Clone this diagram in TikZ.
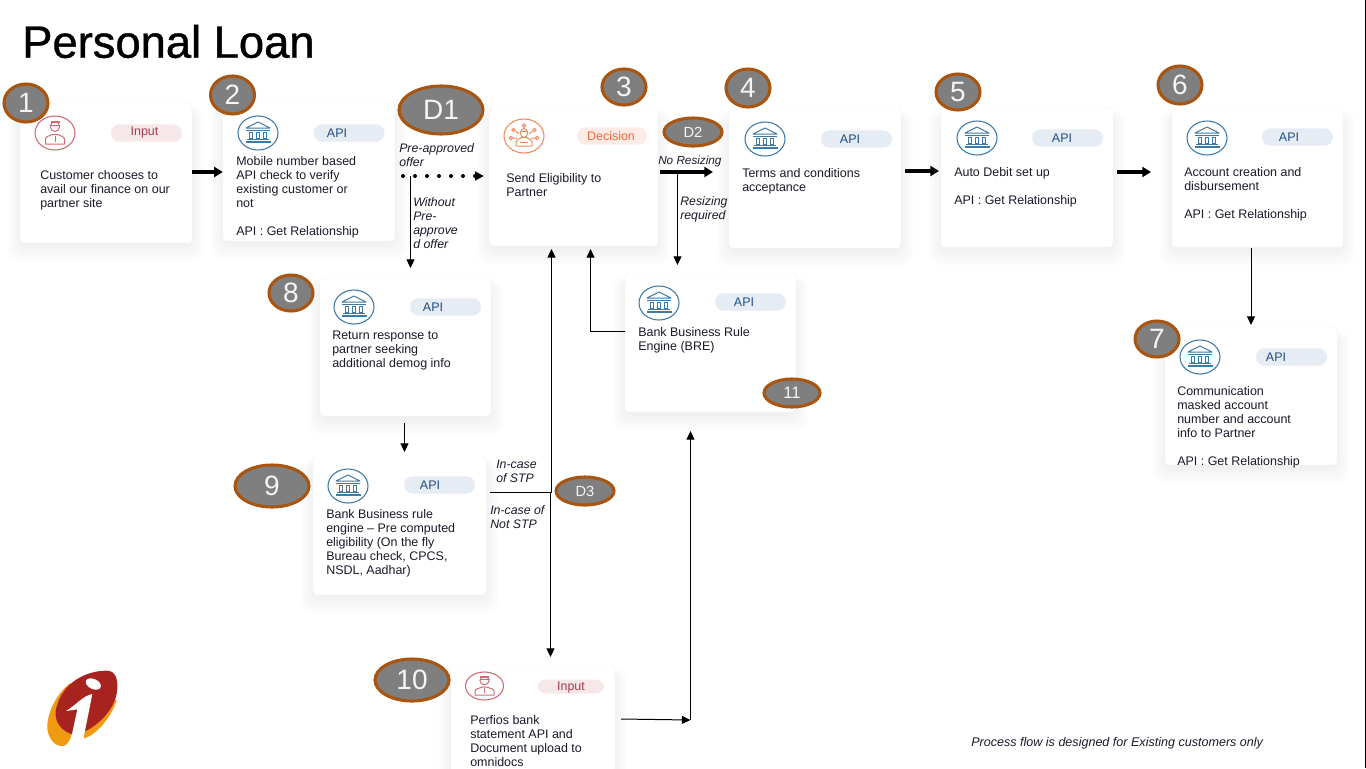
\documentclass[tikz,border=0pt]{standalone}
\usepackage{fontspec}
\setmainfont{Liberation Sans}
\newfontfamily\titlefont[FakeBold=0.9]{Liberation Sans}
\usetikzlibrary{arrows.meta,shapes.geometric}
\definecolor{badgefill}{HTML}{7F7F7F}
\definecolor{badgeedge}{HTML}{A9550F}
\definecolor{bluei}{HTML}{3F79A5}
\definecolor{redi}{HTML}{CF6A74}
\definecolor{orangei}{HTML}{F08A5D}
\definecolor{ink}{HTML}{1A1A2A}
\definecolor{apifill}{HTML}{E6ECF3}
\definecolor{apitext}{HTML}{1F4E86}
\definecolor{inputfill}{HTML}{F6E7E9}
\definecolor{inputtext}{HTML}{A83A50}
\definecolor{decfill}{HTML}{FDEBE5}
\definecolor{dectext}{HTML}{F0683A}
\definecolor{logored}{HTML}{A6231F}
\definecolor{logoorange}{HTML}{F09A12}
\tikzset{
  cardbox/.style={draw=black!5,line width=.3pt,fill=white,rounded corners=2.5pt,inner sep=0pt},
  body/.style={anchor=north west,inner sep=0pt,align=left,text=ink,font=\fontsize{9.35}{10.6}\selectfont},
  note/.style={anchor=north west,inner sep=0pt,align=left,text=ink,font=\fontsize{9.25}{10.6}\itshape\selectfont},
  badge/.style={ellipse,draw=badgeedge,line width=2.3pt,fill=badgefill,text=white!96!black,inner sep=0pt},
  pill/.style={rounded corners=6.5pt,inner sep=0pt,minimum height=13pt},
  tagtext/.style={inner sep=0pt,font=\fontsize{9.35}{10.6}\selectfont},
  bold arrow/.style={line width=2.4pt,-{Triangle[length=6.5pt,width=7.5pt]}},
  thin arrow/.style={line width=.75pt,-{Triangle[length=6.5pt,width=6pt]}},
  thin line/.style={line width=.75pt},
  dot arrow/.style={line width=3pt,line cap=round,dash pattern=on 0pt off 9pt,-{Triangle[length=6.5pt,width=6.5pt,line cap=butt]}}
}
% name x1 y1 x2 y2
\newcommand{\mycard}[5]{%
  \foreach \s in {1,...,16}{%
    \fill[black,opacity=.0048,rounded corners=8pt] ({#2+3-\s*1},{#3+8-\s*0.3}) rectangle ({#4-3+\s*1},{#5+\s*1.2});}%
  \node[cardbox,minimum width={(#4-#2)*0.75pt},minimum height={(#5-#3)*0.75pt}] (#1) at ({(#2+#4)/2},{(#3+#5)/2}) {};}
% name x y rx ry size text
\newcommand{\mybadge}[7]{%
  \node[badge,minimum width={2*#4*0.75pt},minimum height={2*#5*0.75pt},font=\fontsize{#6}{#6}\selectfont] (#1) at (#2,#3) {#7};}
\newcommand{\bankicon}[2]{%
  \begin{scope}[shift={(#1,#2)},draw=bluei,line width=.75pt]
    \draw[line width=.8pt] (0,0) ellipse [x radius=20,y radius=17];
    \draw[line join=round] (-12,-5) -- (0,-11) -- (12,-5) -- cycle;
    \draw (-12,-3) -- (12,-3);
    \foreach \cx in {-8.5,-1.5,5.5}{\draw (\cx,-1) rectangle ++(3,6);}
    \draw (-11,6.5) -- (11,6.5);
    \draw[line width=1pt] (-12.5,9) -- (12.5,9);
  \end{scope}}
\newcommand{\personicon}[4]{%
  \begin{scope}[shift={(#1,#2)},draw=redi,line width=.75pt]
    \draw[line width=.8pt] (0,0) ellipse [x radius=#3,y radius=#4];
    \begin{scope}[yscale=#4/17]
    \draw (0,-6.5) ellipse [x radius=4.6,y radius=5];
    \draw (-5,-8) -- (5,-8);
    \fill[redi] (-4.5,-12.5) rectangle (4.5,-10);
    \draw[line join=round] (-9.5,11) -- (-9.5,6.5) .. controls (-9.5,3.5) and (-6,3) .. (-3,1.5) -- (3,1.5) .. controls (6,3) and (9.5,3.5) .. (9.5,6.5) -- (9.5,11) -- cycle;
    \draw (0,3) -- (0,9);
    \end{scope}
  \end{scope}}
\newcommand{\decisionicon}[2]{%
  \begin{scope}[shift={(#1,#2)},draw=orangei,line width=.75pt]
    \draw[line width=.8pt] (0,0) ellipse [x radius=20,y radius=17];
    \draw (0,-3) ellipse [x radius=3.6,y radius=4.5];
    \draw (-3.5,-4.5) -- (3.5,-4.5);
    \draw[line join=round] (-8,10) -- (-8,6) .. controls (-8,3.5) and (-4,3) .. (-2.5,1.5) -- (2.5,1.5) .. controls (4,3) and (8,3.5) .. (8,6) -- (8,10) -- cycle;
    \draw (-4,6.5) -- (4,6.5);
    \foreach \px/\py in {-10.5/-6,0/-10.5,10.5/-6,-13/2,13/2}{\draw (\px,\py) circle (1.7);}
    \draw (-8.5,-4.5) -- (-5,-2.5) (0,-8.7) -- (0,-7.5) (8.5,-4.5) -- (5,-2.5) (-11,2) -- (-7,2) (11,2) -- (7,2);
  \end{scope}}
% pill-centre-x y text-centre-x
\newcommand{\apitag}[3]{%
  \node[pill,fill=apifill,minimum width={71*0.75pt}] at (#1,#2) {};
  \node[tagtext,text=apitext] at (#3,#2) {API};}
\begin{document}
\begin{tikzpicture}[x=0.75pt,y=-0.75pt]
\clip (0,0) rectangle (1366,768);
\fill[white] (0,0) rectangle (1366,768);
\draw[black,line width=1.1pt] (1365.3,0) -- (1365.3,768);

\node[anchor=west,inner sep=0pt,font=\titlefont\fontsize{34}{34}\selectfont] (title) at (22,41.5) {Personal Loan};

% cards
\mycard{c1}{20}{103}{192}{243}
\mycard{c2}{223}{103}{395}{241}
\mycard{c3}{489}{106}{658}{246}
\mycard{c4}{729}{108}{901}{248}
\mycard{c5}{941}{108}{1113}{247}
\mycard{c6}{1172}{108}{1343}{247}
\mycard{c7}{1165}{327}{1337}{465}
\mycard{c8}{320}{277}{491}{416}
\mycard{c9}{313}{456}{486}{595}
\mycard{c10}{451}{665}{615}{800}
\mycard{c11}{625}{273}{796}{412}

% icons
\personicon{55}{133}{20}{17}
\bankicon{258}{133}
\decisionicon{524}{136}
\bankicon{765}{139}
\bankicon{977}{138}
\bankicon{1207}{138}
\bankicon{1200}{357}
\bankicon{354}{307}
\bankicon{348}{486}
\bankicon{659}{303}
\personicon{484.5}{686}{19}{14}

% tags
\node[pill,fill=inputfill,minimum width={71*0.75pt}] (tag1) at (146.5,133) {};
\node[tagtext,text=inputtext] at (144.5,133) {Input};
\node[pill,fill=decfill,minimum width={70*0.75pt}] (tag3) at (612,136) {};
\node[tagtext,text=dectext] at (611,136) {Decision};
\node[pill,fill=inputfill,minimum width={67*0.75pt},minimum height=10.5pt] (tag10) at (571,686.5) {};
\node[tagtext,text=inputtext] at (571,687) {Input};
\apitag{349}{133}{337}
\apitag{856.5}{139}{850}
\apitag{1067.5}{138}{1062}
\apitag{1297.5}{137}{1289}
\apitag{1291.5}{357}{1276}
\apitag{445.5}{307}{433}
\apitag{439.5}{485}{430}
\apitag{750.5}{302}{744}

% body text
\node[body] (t1) at (40,170) {Customer chooses to\\avail our finance on our\\partner site};
\node[body] (t2) at (236,156) {Mobile number based\\API check to verify\\existing customer or\\not\\[10.6pt]API : Get Relationship};
\node[body] (t3) at (506,173) {Send Eligibility to\\Partner};
\node[body] (t4) at (742,168) {Terms and conditions\\acceptance};
\node[body] (t5) at (954,167) {Auto Debit set up\\[10.6pt]API : Get Relationship};
\node[body] (t6) at (1184,167) {Account creation and\\disbursement\\[10.6pt]API : Get Relationship};
\node[body] (t7) at (1177,386) {Communication\\masked account\\number and account\\info to Partner\\[10.6pt]API : Get Relationship};
\node[body] (t8) at (332,330.5) {Return response to\\partner seeking\\additional demog info};
\node[body] (t9) at (326,509) {Bank Business rule\\engine – Pre computed\\eligibility (On the fly\\Bureau check, CPCS,\\NSDL, Aadhar)};
\node[body] (t10) at (470,715) {Perfios bank\\statement API and\\Document upload to\\omnidocs};
\node[body] (t11) at (638,327) {Bank Business Rule\\Engine (BRE)};

% labels on connectors
\node[note] (n1) at (399,143.5) {Pre-approved\\offer};
\node[note] (n2) at (413,197) {Without\\Pre-\\approve\\d offer};
\node[note,font=\fontsize{8.8}{10.6}\itshape\selectfont] (n3) at (658,155.5) {No Resizing};
\node[note] (n4) at (680,196.5) {Resizing\\required};
\node[note] (n5) at (496,459.5) {In-case\\of STP};
\node[note] (n6) at (490,505.5) {In-case of\\Not STP};
\node[note,font=\fontsize{9.42}{10.6}\itshape\selectfont] (n7) at (971,737.5) {Process flow is designed for Existing customers only};

% junctions
\coordinate (j1) at (403,176);
\coordinate (j1b) at (410.5,176);
\coordinate (e8) at (410.5,268);
\coordinate (j2s) at (660,172);
\coordinate (j2e) at (713,172);
\coordinate (j2b) at (677.5,172);
\coordinate (e11) at (677.5,265);
\coordinate (e3a) at (551.5,249);
\coordinate (e10) at (550.5,657);
\coordinate (j3s) at (490,492.5);
\coordinate (j3) at (551.5,492.5);
\coordinate (j3b) at (550.5,492.5);
\coordinate (e3b) at (590.5,249);
\coordinate (k11) at (590.5,331.5);
\coordinate (s10) at (621,719);
\coordinate (k10) at (690.5,720);
\coordinate (e11b) at (690.5,431);
\coordinate (s8) at (404.5,423);
\coordinate (e9) at (404.5,452);
\coordinate (s4) at (905,171);
\coordinate (e5) at (939,171);
\coordinate (s5) at (1117,172);
\coordinate (e6) at (1151,172);
\coordinate (s6) at (1251,248);
\coordinate (e7) at (1251,325);

% connectors
\draw[bold arrow] (c1.east |- c2.west) -- (c2.west);
\draw[dot arrow] (j1) -- ([xshift=-3.75pt]c3.west);
\draw[thin arrow] (j1b) -- (e8);
\draw[bold arrow] (j2s) -- (j2e);
\draw[thin arrow] (j2b) -- (e11);
\draw[bold arrow] (s4) -- (e5);
\draw[bold arrow] (s5) -- (e6);
\draw[thin arrow] (s6) -- (e7);
\draw[thin arrow] (s8) -- (e9);
\draw[thin arrow] (j3) -- (e3a);
\draw[thin arrow] (j3b) -- (e10);
\draw[thin line] (j3s) -- (j3);
\draw[thin arrow] (c11.west |- k11) -- (k11) -- (e3b);
\draw[thin arrow] (s10) -- (k10);
\draw[thin arrow] (k10) -- (e11b);

% badges
\mybadge{b1}{26}{103}{22}{19}{21}{1}
\mybadge{b2}{232.5}{95}{22}{19}{21}{2}
\mybadge{d1}{441}{110}{42}{24}{21}{D1}
\mybadge{b3}{624}{87}{22}{18}{21}{3}
\mybadge{d2}{693}{132}{29}{14}{11}{D2}
\mybadge{b4}{748}{88}{22}{19}{21}{4}
\mybadge{b5}{958}{92}{22}{18}{21}{5}
\mybadge{b6}{1180}{85}{22}{19}{21}{6}
\mybadge{b7}{1157}{339}{22}{18}{21}{7}
\mybadge{b8}{291}{293}{22}{18}{21}{8}
\mybadge{b9}{272}{486}{37}{21}{21}{9}
\mybadge{b10}{412}{680}{37}{21}{21}{10}
\mybadge{b11}{792}{393}{28}{14}{12.5}{11}
\mybadge{d3}{585}{491}{29}{14}{11}{D3}

% logo
\begin{scope}[shift={(0,650)},x=0.25pt,y=-0.25pt]
  \fill[logoorange] (210,100) .. controls (170,130) and (140,190) .. (142,235) .. controls (145,270) and (170,292) .. (190,288) .. controls (205,285) and (212,265) .. (218,245) -- (250,240) -- (252,265) .. controls (290,255) and (335,200) .. (350,150) -- cycle;
  \fill[logored] (320,62) .. controls (255,62) and (188,100) .. (170,170) .. controls (155,215) and (190,248) .. (222,254) -- (250,246) .. controls (300,225) and (350,170) .. (352,115) .. controls (354,85) and (345,62) .. (320,62) -- cycle;
  \fill[white,rotate around={-25:(280,102)}] (280,102) ellipse [x radius=24,y radius=15];
  \fill[white] (198,183) .. controls (225,168) and (250,136) .. (277,132) -- (250,268) -- (214,262) -- (232,178) -- cycle;
\end{scope}
\end{tikzpicture}
\end{document}
